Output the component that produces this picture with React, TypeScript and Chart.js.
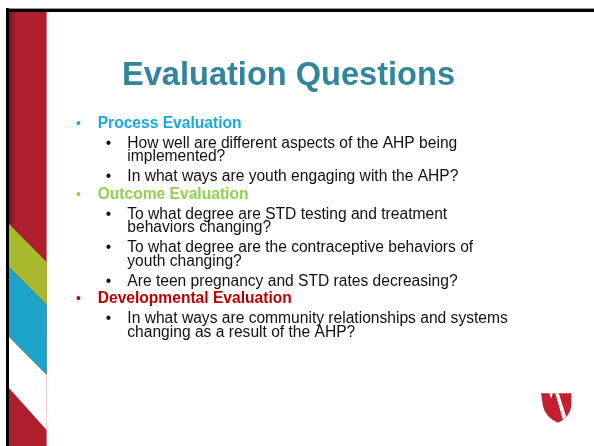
import React, { useEffect, useRef } from "react";
import { Chart, registerables } from "chart.js";

Chart.register(...registerables);

// ---- content ----
const slideTitle = "Evaluation Questions";
const sectionHeadings = ["Process Evaluation", "Outcome Evaluation", "Developmental Evaluation"];
const processQuestions = [
  ["How well are different aspects of the AHP being", "implemented?"],
  ["In what ways are youth engaging with the AHP?"],
];
const outcomeQuestions = [
  ["To what degree are STD testing and treatment", "behaviors changing?"],
  ["To what degree are the contraceptive behaviors of", "youth changing?"],
  ["Are teen pregnancy and STD rates decreasing?"],
];
const developmentalQuestions = [
  ["In what ways are community relationships and systems", "changing as a result of the AHP?"],
];
const sectionQuestions = [processQuestions, outcomeQuestions, developmentalQuestions];

// ---- styles ----
const W = 594;
const H = 446;
const FONT = '"Liberation Sans", Arial, Helvetica, sans-serif';
const TITLE_COLOR = "#31859C";
const HEADING_COLORS = ["#17A9E1", "#92D050", "#C00000"];
const TEXT_COLOR = "#111111";
const STRIPE_RED = "#AD1F2E";
const STRIPE_GREEN = "#A8B92E";
const STRIPE_CYAN = "#1BA3C8";
const LOGO_RED = "#C41F30";

const slidePlugin = {
  id: "slideDecor",
  beforeDraw(chart: any) {
    const ctx = chart.ctx as CanvasRenderingContext2D;
    ctx.save();
    ctx.fillStyle = "#ffffff";
    ctx.fillRect(0, 0, W, H);

    // top border lines
    ctx.fillStyle = "#9a9a9a";
    ctx.fillRect(6, 8, W - 6, 1);
    ctx.fillStyle = "#000000";
    ctx.fillRect(6, 9, W - 6, 3);
    // left border
    ctx.fillRect(6, 8, 3, H - 8);

    // stripe
    const x0 = 9;
    const x1 = 46.6;
    ctx.fillStyle = STRIPE_RED;
    ctx.fillRect(x0, 12, x1 - x0, H - 12);
    // dark shade along the left of the upper red
    const g = ctx.createLinearGradient(x0, 0, x0 + 7, 0);
    g.addColorStop(0, "rgba(60,0,10,0.45)");
    g.addColorStop(1, "rgba(60,0,10,0)");
    ctx.fillStyle = g;
    ctx.fillRect(x0, 12, 7, 212);

    const poly = (pts: number[][], color: string) => {
      ctx.beginPath();
      ctx.moveTo(pts[0][0], pts[0][1]);
      for (let i = 1; i < pts.length; i++) ctx.lineTo(pts[i][0], pts[i][1]);
      ctx.closePath();
      ctx.fillStyle = color;
      ctx.fill();
    };
    poly([[x0, 224], [x1, 262], [x1, 305], [x0, 267]], STRIPE_GREEN);
    poly([[x0, 267], [x1, 305], [x1, 375], [x0, 337]], STRIPE_CYAN);
    poly([[x0, 337], [x1, 375], [x1, 430], [x0, 388]], "#ffffff");
    ctx.restore();
  },
  afterDraw(chart: any) {
    const ctx = chart.ctx as CanvasRenderingContext2D;
    ctx.save();
    ctx.textBaseline = "alphabetic";
    const size = 15.6;
    const lineStep = 13.6;
    const itemGap = 19.8;
    const headingGap = 17.8;
    let y = 128;
    sectionHeadings.forEach((heading, si) => {
      if (si > 0) y += headingGap;
      // level-1 bullet
      ctx.fillStyle = HEADING_COLORS[si];
      ctx.textAlign = "center";
      ctx.font = `${14}px ${FONT}`;
      ctx.fillText("\u2022", 78.4, y - 0.5);
      ctx.textAlign = "left";
      ctx.font = `bold ${size}px ${FONT}`;
      ctx.fillText(heading, 97.7, y);
      sectionQuestions[si].forEach((lines) => {
        y += itemGap;
        ctx.fillStyle = TEXT_COLOR;
        ctx.textAlign = "center";
        ctx.font = `${size}px ${FONT}`;
        ctx.fillText("\u2022", 108.5, y);
        ctx.textAlign = "left";
        lines.forEach((line, li) => {
          if (li > 0) y += lineStep;
          ctx.fillText(line, 127.3, y);
        });
      });
    });

    // logo shield
    ctx.beginPath();
    ctx.moveTo(541, 393.3);
    ctx.lineTo(571.3, 393.3);
    ctx.lineTo(571.3, 406);
    ctx.quadraticCurveTo(570, 417, 558, 422.7);
    ctx.quadraticCurveTo(545, 417, 543, 406);
    ctx.closePath();
    ctx.fillStyle = LOGO_RED;
    ctx.fill();
    ctx.fillStyle = "#ffffff";
    // diagonal white slash
    ctx.beginPath();
    ctx.moveTo(555.3, 393.3);
    ctx.lineTo(558.8, 393.3);
    ctx.lineTo(566, 416.5);
    ctx.lineTo(563, 420);
    ctx.closePath();
    ctx.fill();
    // small top notch
    ctx.beginPath();
    ctx.moveTo(549.3, 393.3);
    ctx.lineTo(552.8, 393.3);
    ctx.lineTo(551.2, 398.5);
    ctx.closePath();
    ctx.fill();
    ctx.restore();
  },
};

export default function App() {
  const ref = useRef<HTMLCanvasElement | null>(null);
  useEffect(() => {
    if (!ref.current) return;
    const chart = new Chart(ref.current, {
      type: "bar",
      data: { labels: [], datasets: [] },
      options: {
        responsive: false,
        animation: false,
        events: [],
        layout: { padding: { left: 0, right: 17, top: 0, bottom: 0 } },
        scales: { x: { display: false }, y: { display: false } },
        plugins: {
          legend: { display: false },
          tooltip: { enabled: false },
          title: {
            display: true,
            text: slideTitle,
            color: TITLE_COLOR,
            font: { family: FONT, size: 32.6, weight: "bold", lineHeight: 1 },
            padding: { top: 60, bottom: 0 },
          },
        },
      },
      plugins: [slidePlugin],
    } as any);
    return () => chart.destroy();
  }, []);
  return (
    <div style={{ position: "fixed", left: 0, top: 0, width: W, height: H, background: "#fff" }}>
      <canvas ref={ref} width={W} height={H} style={{ display: "block", width: W, height: H }} />
    </div>
  );
}
